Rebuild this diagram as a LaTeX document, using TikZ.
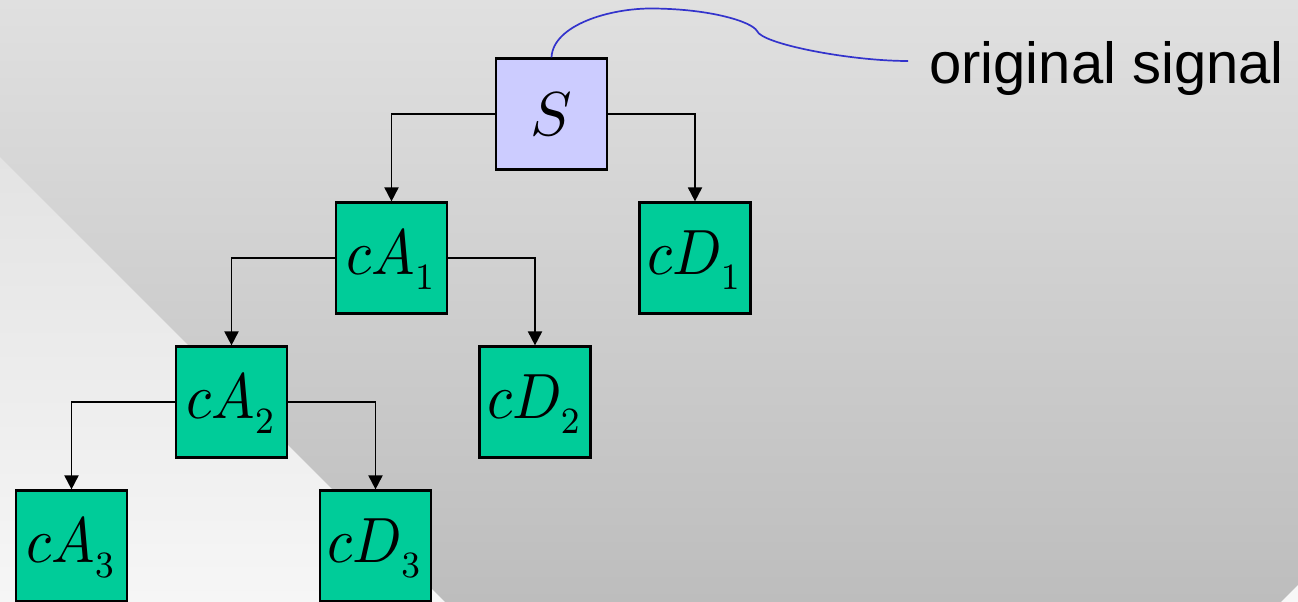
\documentclass[tikz,border=0pt]{standalone}
\usepackage{graphicx}
\usepackage{fontspec}
\newfontfamily\labelfont{Liberation Sans}
\usetikzlibrary{arrows.meta}
\definecolor{bgtop}{HTML}{E0E0E0}
\definecolor{bgbot}{HTML}{BDBDBD}
\definecolor{lighttop}{HTML}{E3E3E3}
\definecolor{lightbot}{HTML}{F6F6F6}
\definecolor{boxgreen}{HTML}{00CC99}
\definecolor{boxblue}{HTML}{CCCCFF}
\definecolor{curveblue}{HTML}{3333CC}
\newcommand{\coefmath}[2]{\scalebox{5.8}[6.4]{\rule{0pt}{7.6pt}$#1_{\raisebox{-0.85pt}{\scalebox{0.83}{$\scriptstyle #2$}}}$}}
\newcommand{\rootmath}[1]{\scalebox{6.2}{$#1$}}
\tikzset{
  coef/.style={draw=black, line width=2.2pt, minimum size=111pt, inner sep=0pt, fill=boxgreen},
  root/.style={coef, fill=boxblue},
  link/.style={draw=black, line width=1.9pt, -{Triangle[length=14pt,width=14pt]}},
}
\begin{document}
\begin{tikzpicture}[x=1pt,y=-1pt]
\useasboundingbox (0,0) rectangle (1298,602);
\shade[top color=bgtop, bottom color=bgbot] (0,0) rectangle (1298,602);
\shade[top color=lighttop, bottom color=lightbot] (0,157) -- (445,602) -- (0,602) -- cycle;
\fill[white!94!gray] (1281,602) -- (1298,585) -- (1298,602) -- cycle;

\node[root] (S) at (551.5,114) {\rootmath{S}};
\node[coef] (cA1) at (391.5,258) {\coefmath{cA}{1}};
\node[coef] (cD1) at (695,258) {\coefmath{cD}{1}};
\node[coef] (cA2) at (231.5,402) {\coefmath{cA}{2}};
\node[coef] (cD2) at (535,402) {\coefmath{cD}{2}};
\node[coef] (cA3) at (71.5,546) {\coefmath{cA}{3}};
\node[coef] (cD3) at (375.5,546) {\coefmath{cD}{3}};

\draw[link] (S.west) -| (cA1.north);
\draw[link] (S.east) -| (cD1.north);
\draw[link] (cA1.west) -| (cA2.north);
\draw[link] (cA1.east) -| (cD2.north);
\draw[link] (cA2.west) -| (cA3.north);
\draw[link] (cA2.east) -| (cD3.north);

\node[anchor=base west, inner sep=0pt, font=\labelfont\fontsize{58}{64}\selectfont] (lbl) at (929,83) {original signal};
\coordinate (cend) at (908,61);
\draw[curveblue, line width=1.7pt] (S.north) .. controls (553,25) and (610,8) .. (653,8.5)
  .. controls (712,9) and (752,22) .. (757,31)
  .. controls (762,44) and (850,61) .. (cend);
\end{tikzpicture}
\end{document}
